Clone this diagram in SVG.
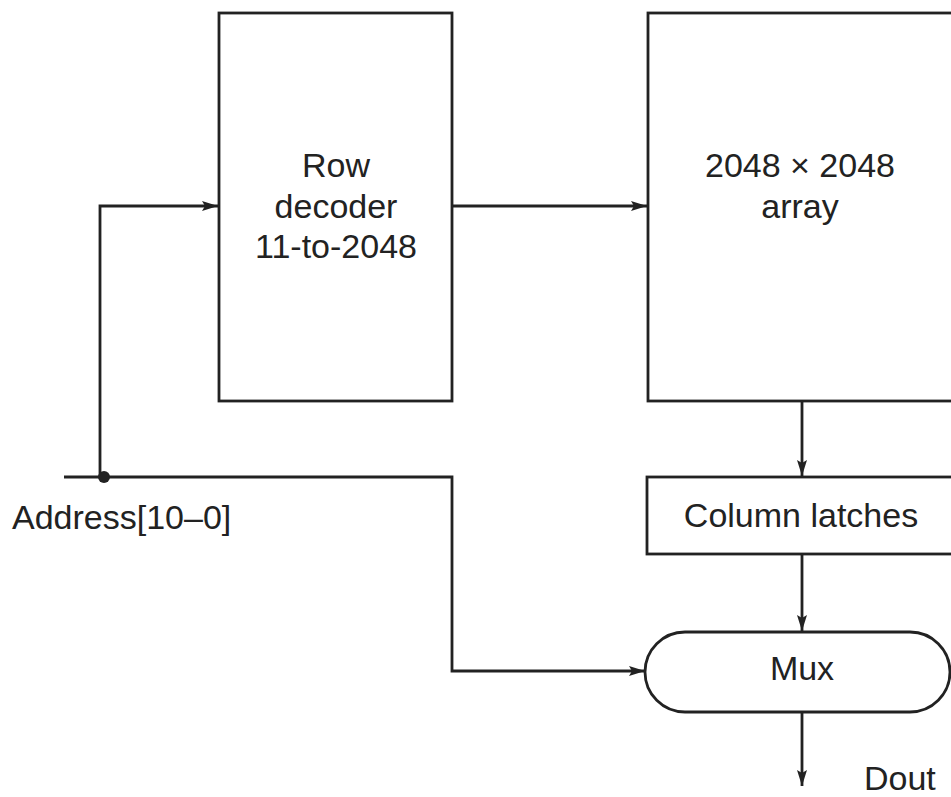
<svg xmlns="http://www.w3.org/2000/svg" width="951" height="797" viewBox="0 0 951 797">
<style>
.box{fill:#fff;stroke:#222;stroke-width:2.8}
.w{fill:none;stroke:#222;stroke-width:2.8}
text{font-family:"Liberation Sans",Arial,sans-serif;font-size:34px;fill:#222}
.c{text-anchor:middle}
</style>
<defs>
<marker id="ah" viewBox="0 0 16 10" refX="16" refY="5" markerWidth="16" markerHeight="10" markerUnits="userSpaceOnUse" orient="auto">
<path d="M0,0 L16,5 L0,10 L3,5 Z" fill="#222"/>
</marker>
</defs>
<rect width="951" height="797" fill="#fff"/>
<g id="connectors">
<path class="w" d="M64,477 H452 V671 H645" marker-end="url(#ah)"/>
<path class="w" d="M100,477 V206 H218" marker-end="url(#ah)"/>
<path class="w" d="M452,206 H647" marker-end="url(#ah)"/>
<path class="w" d="M802,401 V476" marker-end="url(#ah)"/>
<path class="w" d="M802,554 V631" marker-end="url(#ah)"/>
<path class="w" d="M802,712 V786" marker-end="url(#ah)"/>
<circle cx="104" cy="477" r="6" fill="#222"/>
</g>
<g id="rowdecoder">
<rect class="box" x="219" y="13" width="233" height="388"/>
<text class="c" x="336" y="177">Row</text>
<text class="c" x="336" y="218">decoder</text>
<text class="c" x="336" y="258">11-to-2048</text>
</g>
<g id="array">
<rect class="box" x="648" y="13" width="320" height="388"/>
<text class="c" x="800" y="177">2048 × 2048</text>
<text class="c" x="800" y="218">array</text>
</g>
<g id="latches">
<rect class="box" x="647" y="477" width="320" height="77"/>
<text class="c" x="801" y="527">Column latches</text>
</g>
<g id="mux">
<rect class="box" x="645" y="632" width="305" height="80" rx="40" ry="40"/>
<text class="c" x="802" y="680">Mux</text>
</g>
<g id="labels">
<text x="12" y="529">Address[10–0]</text>
<text x="864" y="790">Dout</text>
</g>
</svg>
